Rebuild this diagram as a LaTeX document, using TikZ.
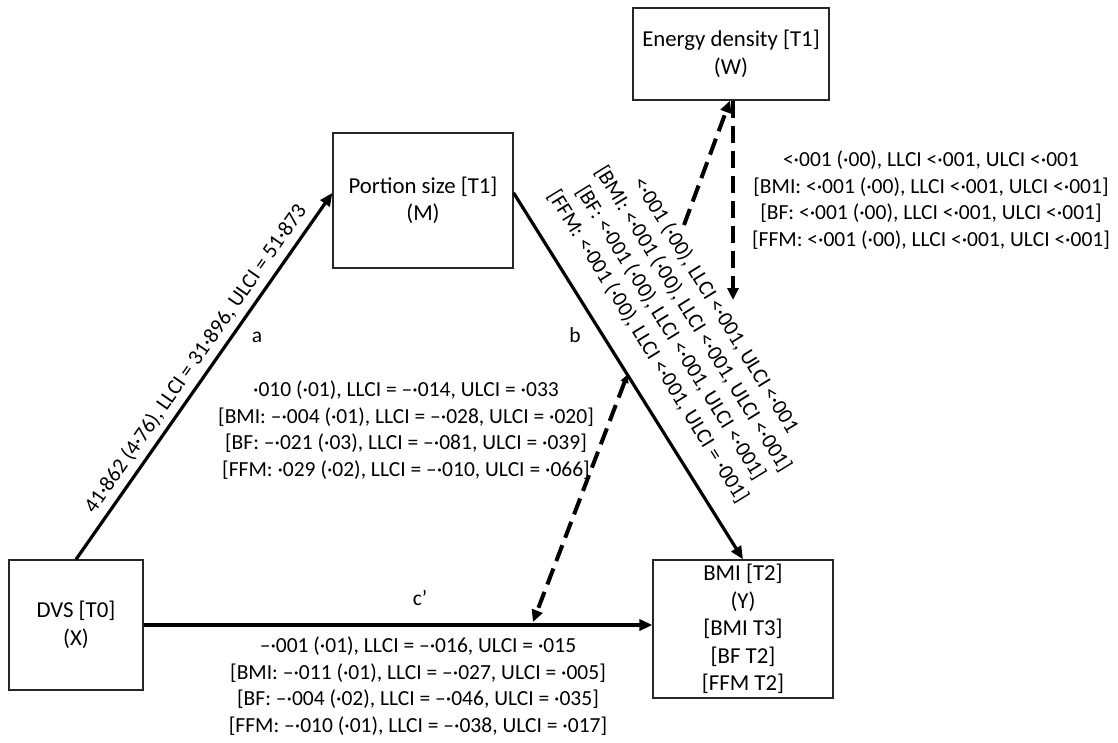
\documentclass[tikz,border=0pt]{standalone}
\usepackage{fontspec}
\setmainfont{Carlito}
\usetikzlibrary{arrows.meta,calc}
\begin{document}
\begin{tikzpicture}[x=1pt,y=-1pt,
  every node/.style={font=\fontsize{21.5}{26.5}\selectfont},
  box/.style={draw=black!85, line width=1.2pt, align=center, inner sep=0pt, font=\fontsize{22.8}{27.5}\selectfont},
  lbl/.style={align=center, inner sep=0pt},
  solidarrow/.style={line width=3.2pt, -{Triangle[length=13pt,width=11pt]}},
  dasharrow/.style={line width=4pt, dash pattern=on 17pt off 8pt, -{Triangle[length=12pt,width=11pt]}}
]
\useasboundingbox (0,0) rectangle (1118,742);

% boxes
\node[box, minimum width=196pt, minimum height=92pt] (W) at (731,54) {Energy density [T1]\\(W)};
\node[box, minimum width=180pt, minimum height=135pt] (M) at (423,200.5) {Portion size [T1]\\(M)};
\node[box, minimum width=134pt, minimum height=130pt] (X) at (76,625) {DVS [T0]\\(X)};
\node[box, minimum width=180pt, minimum height=138pt] (Y) at (743,629) {BMI [T2]\\(Y)\\{}[BMI T3]\\{}[BF T2]\\{}[FFM T2]};

% anchor points
\coordinate (Ma) at ($(M.north west)!0.444!(M.south west)$);
\coordinate (Mb) at ($(M.north east)!0.444!(M.south east)$);

% solid paths
\draw[solidarrow] (X.north) -- (Ma)
  node[pos=0.52, sloped, above, inner sep=6pt] (la) {41·862 (4·76), LLCI = 31·896, ULCI = 51·873};
\draw[solidarrow] (Mb) -- (Y.north);
\draw[solidarrow] (X.east) -- (X.east -| Y.west);

\node (ta) at (257,337) {a};
\node (tb) at (575,335) {b};
\node (tc) at (420,598) {c’};

% dashed moderation paths
\coordinate (Wup) at (684,225);
\coordinate (Wdn) at (733,300);
\draw[dasharrow] (Wup) -- ($(W.south)+(-1,0)$);
\draw[dasharrow] ($(W.south)+(2,0)$) -- (Wdn);
\coordinate (Pb) at ($(Mb)!0.496!(Y.north)$);
\coordinate (Pc) at (533,622);
\draw[dasharrow, {Triangle[length=8pt,width=8pt]}-{Triangle[length=12pt,width=11pt]}] (Pb) -- (Pc);

% labels
\node[lbl] (L1) at (406,430) {·010 (·01), LLCI = –·014, ULCI = ·033\\{}[BMI: –·004 (·01), LLCI = –·028, ULCI = ·020]\\{}[BF: –·021 (·03), LLCI = –·081, ULCI = ·039]\\{}[FFM: ·029 (·02), LLCI = –·010, ULCI = ·066]};
\node[lbl] (L2) at (418,686) {–·001 (·01), LLCI = –·016, ULCI = ·015\\{}[BMI: –·011 (·01), LLCI = –·027, ULCI = ·005]\\{}[BF: –·004 (·02), LLCI = –·046, ULCI = ·035]\\{}[FFM: –·010 (·01), LLCI = –·038, ULCI = ·017]};
\node[lbl] (L3) at (931,200) {<·001 (·00), LLCI <·001, ULCI <·001\\{}[BMI: <·001 (·00), LLCI <·001, ULCI <·001]\\{}[BF: <·001 (·00), LLCI <·001, ULCI <·001]\\{}[FFM: <·001 (·00), LLCI <·001, ULCI <·001]};
\node[lbl, rotate=-58.3] (L4) at (682,326) {<·001 (·00), LLCI <·001, ULCI <·001\\{}[BMI: <·001 (·00), LLCI <·001, ULCI <·001]\\{}[BF: <·001 (·00), LLCI <·001, ULCI <·001]\\{}[FFM: <·001 (·00), LLCI <·001, ULCI = ·001]};
\end{tikzpicture}
\end{document}
